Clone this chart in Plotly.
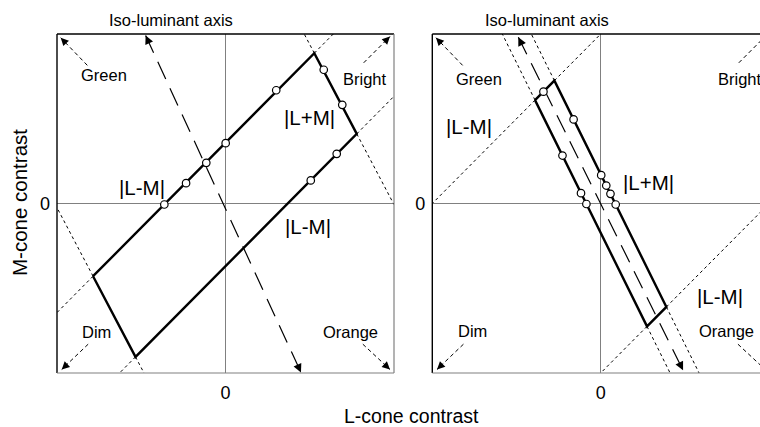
import numpy as np
import plotly.graph_objects as go

FONT = "Liberation Sans, Arial, Helvetica, sans-serif"

# ---------------- data (cone-contrast units, each panel spans -1..1) -------------
# Left panel: stimulus region (parallelogram) and sampled points
left_box_x = [-0.786, 0.527, 0.779, -0.534]
left_box_y = [-0.429, 0.887, 0.411, -0.905]
left_circle_x = [-0.363, -0.234, -0.114, 0.001, 0.301, 0.583, 0.693, 0.660, 0.506]
left_circle_y = [-0.006, 0.120, 0.240, 0.356, 0.668, 0.789, 0.582, 0.293, 0.136]
left_iso_x = [-0.474, 0.448]
left_iso_y = [0.991, -0.997]

# Right panel
right_box_x = [-0.39, -0.275, 0.39, 0.275]
right_box_y = [0.61, 0.725, -0.61, -0.725]
right_circle_x = [-0.340, -0.161, -0.227, -0.117, -0.085, 0.003, 0.033, 0.058, 0.089]
right_circle_y = [0.660, 0.496, 0.283, 0.061, -0.003, 0.167, 0.106, 0.057, -0.006]
right_iso_x = [-0.489, 0.489]
right_iso_y = [0.981, -0.984]

# Corner direction arrows (tail -> tip), same in both panels
corner_tail_x = [-0.82, 0.82, -0.815, 0.815]
corner_tail_y = [0.815, 0.83, -0.83, -0.83]
corner_tip_x = [-0.978, 0.976, -0.972, 0.976]
corner_tip_y = [0.978, 0.985, -0.979, -0.979]

# Text labels inside panels
left_label_text = ["Green", "Bright", "Dim", "Orange", "|L+M|", "|L-M|", "|L-M|"]
left_label_x = [-0.721, 0.828, -0.764, 0.743, 0.501, -0.497, 0.491]
left_label_y = [0.759, 0.732, -0.757, -0.757, 0.506, 0.096, -0.134]
right_label_text = ["Green", "Bright", "Dim", "Orange", "|L+M|", "|L-M|", "|L-M|"]
right_label_x = [-0.72, 0.83, -0.76, 0.748, 0.283, -0.78, 0.708]
right_label_y = [0.732, 0.732, -0.753, -0.753, 0.126, 0.452, -0.547]
label_sizes = [16.5, 16.5, 16.5, 16.5, 20.5, 20.5, 20.5]

iso_title = "Iso-luminant axis"
tick_vals = [0]
tick_text = ["0"]
x_title = "L-cone contrast"
y_title = "M-cone contrast"

W, H = 760, 427


def to_frame(p, d):
    ts = []
    for k in range(2):
        if d[k] > 1e-12:
            ts.append((1 - p[k]) / d[k])
        elif d[k] < -1e-12:
            ts.append((-1 - p[k]) / d[k])
    return p + min(ts) * d


def extensions(bx, by):
    pts = [np.array([x, y]) for x, y in zip(bx, by)]
    n = len(pts)
    xs, ys = [], []
    for i in range(n):
        v = pts[i]
        for nb in (pts[i - 1], pts[(i + 1) % n]):
            e = to_frame(v, v - nb)
            xs += [v[0], e[0], None]
            ys += [v[1], e[1], None]
    return xs, ys


fig = go.Figure()
annotations = []


def arrowhead(tip_x, tip_y, from_x, from_y, xr, yr, size=1.3):
    d = np.array([from_x - tip_x, from_y - tip_y])
    d = d / np.hypot(*d)
    tx, ty = tip_x + 0.035 * d[0], tip_y + 0.035 * d[1]
    annotations.append(dict(x=tip_x, y=tip_y, ax=tx, ay=ty, xref=xr, yref=yr,
                            axref=xr, ayref=yr, text="", showarrow=True,
                            arrowhead=2, arrowsize=size, arrowwidth=1.3,
                            arrowcolor="black", standoff=0, startstandoff=0))


def panel(xr, yr, bx, by, cx, cy, ix, iy, lt, lx, ly):
    ex, ey = extensions(bx, by)
    fig.add_trace(go.Scatter(x=ex, y=ey, mode="lines", xaxis=xr, yaxis=yr,
                             line=dict(color="black", width=1, dash="3px,3px"),
                             hoverinfo="skip", showlegend=False))
    fig.add_trace(go.Scatter(x=ix, y=iy, mode="lines", xaxis=xr, yaxis=yr,
                             line=dict(color="black", width=1.2, dash="19px,10px"),
                             hoverinfo="skip", showlegend=False))
    cxs, cys = [], []
    for a, b, c, d in zip(corner_tail_x, corner_tail_y, corner_tip_x, corner_tip_y):
        cxs += [a, c, None]
        cys += [b, d, None]
    fig.add_trace(go.Scatter(x=cxs, y=cys, mode="lines", xaxis=xr, yaxis=yr,
                             line=dict(color="black", width=1, dash="4px,3px"),
                             hoverinfo="skip", showlegend=False))
    fig.add_trace(go.Scatter(x=list(bx) + [bx[0]], y=list(by) + [by[0]], mode="lines",
                             xaxis=xr, yaxis=yr, line=dict(color="black", width=2.4),
                             hoverinfo="skip", showlegend=False))
    fig.add_trace(go.Scatter(x=cx, y=cy, mode="markers", xaxis=xr, yaxis=yr,
                             marker=dict(size=7.5, color="white",
                                         line=dict(color="black", width=1.2)),
                             hoverinfo="skip", showlegend=False))
    arrowhead(ix[0], iy[0], ix[1], iy[1], xr, yr)
    arrowhead(ix[1], iy[1], ix[0], iy[0], xr, yr)
    for a, b, c, d in zip(corner_tail_x, corner_tail_y, corner_tip_x, corner_tip_y):
        arrowhead(c, d, a, b, xr, yr, size=1.2)
    for t, x, y, s in zip(lt, lx, ly, label_sizes):
        annotations.append(dict(x=x, y=y, xref=xr, yref=yr, text=t, showarrow=False,
                                font=dict(size=s, color="black", family=FONT),
                                xanchor="center", yanchor="middle"))


panel("x", "y", left_box_x, left_box_y, left_circle_x, left_circle_y,
      left_iso_x, left_iso_y, left_label_text, left_label_x, left_label_y)
panel("x2", "y2", right_box_x, right_box_y, right_circle_x, right_circle_y,
      right_iso_x, right_iso_y, right_label_text, right_label_x, right_label_y)

# "Iso-luminant axis" titles above each panel
for px in (170.7, 546.7):
    annotations.append(dict(x=px / W, y=1 - 20.5 / H, xref="paper", yref="paper",
                            text=iso_title, showarrow=False, xanchor="center",
                            yanchor="middle",
                            font=dict(size=16.5, color="black", family=FONT)))

# axis titles
annotations.append(dict(x=411.7 / W, y=1 - 416 / H, xref="paper", yref="paper",
                        text=x_title, showarrow=False, xanchor="center", yanchor="middle",
                        borderpad=0,
                        font=dict(size=19.5, color="black", family=FONT)))
annotations.append(dict(x=19.5 / W, y=1 - 202.5 / H, xref="paper", yref="paper",
                        text=y_title, showarrow=False, xanchor="center", yanchor="middle",
                        textangle=-90, font=dict(size=20.5, color="black", family=FONT)))

# frames: top & left black, right & bottom gray
shapes = []
for xr, yr in (("x", "y"), ("x2", "y2")):
    xd, yd = xr + " domain", yr + " domain"
    shapes.append(dict(type="line", xref=xd, yref=yd, x0=0, x1=1, y0=1, y1=1,
                       line=dict(color="black", width=1.4), layer="above"))
    shapes.append(dict(type="line", xref=xd, yref=yd, x0=0, x1=0, y0=0, y1=1,
                       line=dict(color="black", width=1.4), layer="above"))
    shapes.append(dict(type="line", xref=xd, yref=yd, x0=0, x1=1, y0=0, y1=0,
                       line=dict(color="#808080", width=1.2), layer="above"))
shapes.append(dict(type="line", xref="x domain", yref="y domain", x0=1, x1=1, y0=0, y1=1,
                   line=dict(color="#808080", width=1.2), layer="above"))

ydom = [1 - 373 / H, 1 - 34 / H]
axis_common = dict(showgrid=False, zeroline=True, zerolinecolor="#808080",
                   zerolinewidth=1.2, showline=False, ticks="", tickvals=tick_vals,
                   ticktext=tick_text, tickfont=dict(size=18, color="black", family=FONT),
                   fixedrange=True)

fig.update_layout(
    width=W, height=H, margin=dict(l=0, r=0, t=0, b=0),
    paper_bgcolor="white", plot_bgcolor="white", showlegend=False,
    xaxis=dict(domain=[57 / W, 394 / W], range=[-1, 1], anchor="y",
               ticklabelstandoff=7, **axis_common),
    yaxis=dict(domain=ydom, range=[-1, 1], anchor="x", ticklabelstandoff=6, **axis_common),
    xaxis2=dict(domain=[432.3 / W, 1.0], range=[-1, (760 - 600.7) / 168.4], anchor="y2",
                ticklabelstandoff=7, **axis_common),
    yaxis2=dict(domain=ydom, range=[-1, 1], anchor="x2", ticklabelstandoff=6, **axis_common),
    annotations=annotations, shapes=shapes,
)

fig.write_html("out.html")
